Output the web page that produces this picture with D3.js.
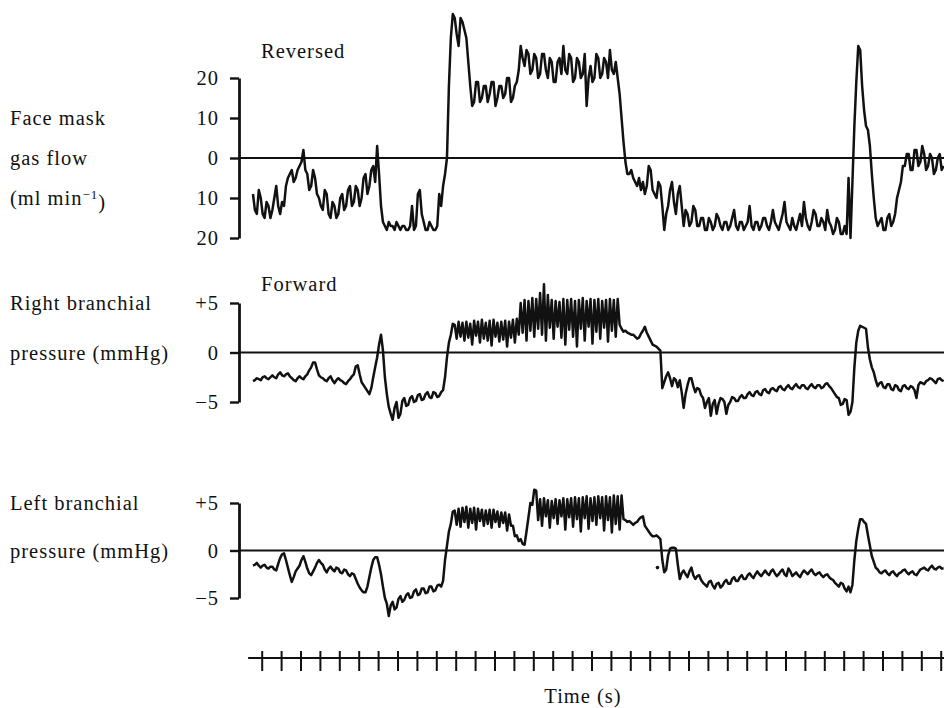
<!DOCTYPE html>
<html>
<head>
<meta charset="utf-8">
<script src="https://cdn.jsdelivr.net/npm/d3@7"></script>
<style>
  body { margin: 0; background: #fff; }
  text { font-family: "Liberation Serif", "Times New Roman", serif; font-size: 20.5px; letter-spacing: 1px; fill: #111; }
</style>
</head>
<body>
<svg id="chart"></svg>
<script>
// Sampling of the three traces (s)
const t0 = -0.45;
const dt = 0.1;

// Face mask gas flow (ml min-1), positive = reversed
const faceFlow = [
  -9, -13, -14, -8, -10, -14, -15, -11, -12, -15, -13, -10, -7, -12, -14, -11, -12, -7, -5, -4,
  -3, -6, -5, -3, -2, -1, 2, -3, -4, -8, -7, -3, -5, -9, -10, -12, -13, -8, -9, -14,
  -15, -11, -12, -15, -14, -10, -9, -13, -12, -8, -7, -12, -11, -7, -8, -12, -10, -5, -4, -9,
  -7, -3, -2, -6, 3, -4, -12, -16, -17, -18, -16, -17, -17, -18, -16, -17, -18, -17, -17, -18,
  -18, -17, -12, -18, -17, -9, -8, -14, -16, -18, -18, -16, -17, -18, -18, -17, -9, -12, -7, -4,
  0, 18, 30, 36, 35, 31, 28, 35, 34, 32, 30, 24, 18, 13, 14, 19, 19, 14, 15, 18,
  18, 14, 16, 19, 19, 13, 15, 18, 18, 15, 16, 20, 20, 14, 15, 18, 19, 22, 28, 25,
  23, 27, 26, 21, 22, 26, 25, 20, 21, 26, 26, 22, 20, 25, 24, 19, 19, 24, 25, 21,
  28, 22, 21, 26, 25, 19, 20, 25, 24, 20, 21, 26, 13, 20, 23, 19, 20, 26, 25, 20,
  21, 25, 24, 20, 27, 22, 21, 24, 20, 16, 10, 4, -1, -4, -4, -3, -5, -6, -7, -5,
  -8, -6, -9, -7, -2, -3, -8, -9, -10, -6, -7, -12, -18, -14, -12, -8, -6, -11, -14, -9,
  -7, -12, -17, -13, -14, -17, -16, -12, -13, -17, -17, -15, -15, -18, -18, -15, -16, -18, -17, -14,
  -15, -17, -18, -16, -16, -18, -17, -15, -13, -17, -18, -16, -16, -18, -17, -16, -12, -17, -18, -16,
  -16, -18, -17, -15, -15, -17, -18, -16, -13, -16, -17, -18, -16, -14, -11, -16, -17, -18, -15, -17,
  -18, -16, -14, -17, -11, -15, -17, -18, -16, -13, -14, -17, -17, -15, -16, -18, -13, -16, -17, -19,
  -18, -15, -16, -19, -19, -17, -19, -5, -20, -6, 8, 19, 28, 27, 18, 12, 8, 7, 3, -4,
  -10, -15, -17, -16, -15, -18, -18, -15, -14, -17, -16, -14, -10, -8, -6, -2, -2, 1, 1, -3,
  -3, 2, 2, -2, -1, 3, 1, -3, -2, 1, 0, -4, -3, 0, 1, -3, -2
];

// Right branchial pressure (mmHg)
const rightPressure = [
  -2.9, -2.8, -2.6, -2.7, -2.8, -2.5, -2.4, -2.6, -2.7, -2.5, -2.3, -2.5, -2.6, -2.2, -2.0, -2.3, -2.4, -2.2, -2.1, -2.4,
  -2.6, -2.8, -2.9, -2.6, -2.4, -2.6, -2.7, -2.4, -2.2, -1.8, -1.5, -1.0, -1.0, -1.7, -2.3, -2.5, -2.6, -2.8, -2.9, -2.6,
  -2.4, -2.8, -3.1, -2.8, -2.6, -2.8, -2.9, -3.1, -3.2, -2.9, -2.7, -2.4, -2.2, -1.4, -1.3, -2.2, -3.0, -3.3, -3.6, -3.9,
  -4.2, -3.6, -2.5, -1.5, -0.5, 0.8, 1.8, 0.2, -2.5, -4.2, -5.5, -6.2, -6.8, -5.6, -5.0, -6.6, -6.2, -4.9, -4.6, -5.4,
  -5.3, -4.6, -4.4, -5.0, -4.9, -4.3, -4.2, -4.8, -4.7, -4.2, -4.0, -4.5, -4.6, -4.0, -4.1, -4.5, -4.4, -4.0, -3.8, -2.5,
  -0.5, 1.0, 1.8, 2.9, 2.8, 1.4, 3.1, 1.6, 3.0, 1.2, 3.1, 1.5, 2.9, 0.8, 3.2, 1.7, 3.1, 1.0, 3.3, 1.4,
  3.0, 1.2, 3.2, 0.7, 3.3, 1.6, 3.0, 1.1, 3.1, 1.3, 3.2, 0.6, 3.1, 1.5, 3.3, 1.0, 3.4, 1.8, 5.0, 2.0,
  5.3, 1.2, 5.2, 2.2, 5.5, 1.6, 5.4, 2.4, 6.0, 1.8, 6.9, 1.2, 5.8, 2.5, 5.3, 1.4, 5.2, 2.6, 5.1, 1.5,
  5.4, 0.8, 5.3, 2.3, 5.4, 1.6, 5.2, 0.6, 5.3, 2.4, 5.5, 1.2, 5.2, 2.6, 5.4, 0.9, 5.3, 2.1, 5.4, 1.4,
  5.2, 2.5, 5.3, 1.1, 5.4, 2.2, 5.3, 1.6, 5.4, 2.8, 2.4, 2.1, 2.2, 2.0, 1.9, 1.8, 1.8, 1.6, 1.4, 1.5,
  1.9, 2.2, 2.6, 2.0, 1.6, 1.2, 0.8, 0.7, 0.6, 0.4, 0.2, -3.6, -3.0, -2.4, -2.0, -2.6, -3.4, -2.6, -2.8, -3.5,
  -2.8, -4.0, -5.6, -4.2, -3.3, -2.6, -2.6, -3.4, -4.0, -3.6, -3.7, -4.3, -4.6, -5.6, -5.0, -4.6, -6.4, -5.2, -4.8, -6.2,
  -5.2, -4.6, -4.7, -5.0, -6.2, -5.3, -5.0, -4.5, -4.6, -4.9, -4.9, -4.5, -4.3, -4.6, -4.6, -4.2, -4.0, -4.3, -4.4, -4.0,
  -3.9, -4.2, -4.3, -3.8, -3.7, -4.0, -4.1, -3.7, -3.6, -3.8, -3.9, -3.5, -3.4, -3.7, -3.8, -3.5, -3.3, -3.6, -3.7, -3.4,
  -3.2, -3.5, -3.6, -3.3, -3.3, -3.6, -3.7, -3.4, -3.2, -3.5, -3.6, -3.3, -3.3, -3.6, -3.5, -3.2, -3.1, -3.4, -3.6, -3.9,
  -4.2, -4.5, -4.6, -5.3, -5.2, -4.7, -4.8, -6.3, -6.0, -5.0, -1.5, 1.0, 2.2, 2.7, 2.6, 2.5, 2.4, 0.5, -0.7, -1.5,
  -2.0, -2.8, -3.4, -3.1, -3.0, -3.5, -3.6, -3.2, -3.2, -3.7, -3.8, -3.3, -3.4, -3.8, -3.9, -3.4, -3.3, -3.6, -3.7, -3.4,
  -3.5, -3.8, -4.6, -3.3, -3.0, -3.1, -3.2, -2.9, -2.8, -2.6, -2.7, -2.9, -3.1, -2.7, -2.6, -2.8, -2.9
];

// Left branchial pressure (mmHg)
const leftPressure = [
  -1.6, -1.5, -1.3, -1.6, -1.8, -1.6, -1.5, -1.8, -1.9, -1.7, -1.7, -2.0, -2.1, -1.4, -0.8, -0.4, -0.3, -1.0, -1.8, -2.6,
  -3.3, -2.8, -2.2, -1.9, -1.6, -1.0, -0.6, -1.2, -1.9, -2.4, -2.6, -2.2, -1.8, -1.3, -1.0, -1.3, -1.5, -2.0, -2.3, -1.9,
  -1.7, -2.0, -2.2, -1.8, -1.9, -2.3, -2.4, -2.0, -2.1, -2.5, -2.7, -2.4, -2.5, -3.0, -3.5, -3.9, -4.2, -4.4, -4.4, -3.8,
  -2.8, -1.8, -1.0, -0.7, -0.7, -1.5, -2.5, -3.8, -5.0, -5.6, -6.9, -5.8, -5.4, -6.2, -6.0, -5.1, -4.8, -5.4, -5.2, -4.7,
  -4.5, -5.0, -4.9, -4.3, -4.1, -4.7, -4.6, -4.0, -4.0, -4.5, -4.4, -3.8, -3.8, -4.3, -4.2, -3.7, -3.6, -3.8, -3.2, -1.0,
  0.5, 2.0, 2.8, 4.1, 4.2, 2.7, 4.4, 2.5, 4.5, 3.0, 4.6, 2.4, 4.4, 2.9, 4.5, 2.2, 4.4, 3.1, 4.3, 2.6,
  4.2, 2.8, 4.3, 2.4, 4.3, 3.0, 4.1, 2.5, 4.0, 2.9, 4.0, 2.1, 3.8, 2.6, 2.6, 1.5, 1.6, 1.0, 1.2, 0.7,
  0.6, 2.0, 3.5, 5.0, 4.8, 6.4, 6.3, 3.2, 5.4, 2.6, 5.5, 3.6, 5.3, 2.4, 5.2, 3.4, 5.4, 2.8, 5.3, 3.6,
  5.5, 2.2, 5.4, 3.5, 5.5, 2.5, 5.6, 3.3, 5.5, 2.0, 5.6, 3.4, 5.7, 2.3, 5.5, 3.1, 5.6, 2.7, 5.7, 3.4,
  5.6, 2.1, 5.7, 3.2, 5.6, 1.9, 5.8, 2.8, 5.7, 2.2, 5.8, 3.3, 3.2, 3.0, 3.1, 2.9, 2.7, 2.9, 3.0, 3.3,
  3.5, 3.6, 2.6, 2.3, 2.0, 1.7, 1.5, 1.5, 1.6, 1.4, 1.2, -1.0, -2.3, -2.0, -0.5, 0.2, 0.3, 0.3, 0.2, -1.5,
  -3.0, -2.4, -2.1, -2.5, -2.8, -2.2, -1.8, -2.6, -3.0, -2.7, -2.6, -3.1, -3.4, -3.6, -3.8, -3.3, -3.2, -3.7, -4.0, -3.5,
  -3.4, -3.9, -3.7, -3.3, -3.1, -3.5, -3.5, -3.0, -2.8, -3.2, -3.2, -2.8, -2.6, -3.0, -3.0, -2.6, -2.4, -2.7, -2.9, -2.5,
  -2.2, -2.5, -2.7, -2.4, -2.1, -2.4, -2.6, -2.2, -2.0, -2.4, -2.7, -2.5, -2.2, -2.0, -2.5, -2.7, -1.9, -2.2, -2.7, -2.5,
  -2.3, -2.6, -2.8, -2.4, -2.1, -2.3, -2.5, -2.2, -2.0, -2.4, -2.6, -2.4, -2.3, -2.6, -2.8, -2.6, -2.5, -2.8, -3.0, -3.1,
  -3.4, -3.6, -3.8, -3.4, -3.5, -4.0, -4.3, -3.8, -4.4, -3.6, -1.0, 1.0, 2.3, 3.3, 3.3, 3.0, 2.8, 1.6, 0.5, -0.6,
  -1.2, -1.8, -2.0, -2.3, -2.4, -2.2, -2.1, -2.4, -2.6, -2.3, -2.2, -2.5, -2.7, -2.4, -2.3, -2.1, -2.0, -2.3, -2.5, -2.3,
  -2.2, -2.5, -2.6, -2.3, -2.0, -1.9, -1.8, -2.0, -2.1, -1.8, -1.6, -1.9, -2.0, -1.8, -1.7, -1.9, -1.9
];
const leftDots = [{ t: 20.4, v: -1.8 }];

// Axis ticks
const flowTicks = [20, 10, 0, -10, -20];
const pressureTicks = [5, 0, -5];
const timeTicks = d3.range(0, 36);

const width = 944;
const height = 708;
const axisLeftX = 239;

const svg = d3.select('#chart')
  .attr('width', width)
  .attr('height', height);

const x = d3.scaleLinear().domain([0, 35]).range([261.7, 940.7]);

const signed = d => (d > 0 ? '+' + d : d < 0 ? '\u2212' + Math.abs(d) : '0');

const panels = [
  {
    values: faceFlow, domain: [-20, 20], range: [238, 78], ticks: flowTicks,
    fmt: d => Math.abs(d), title: 'Reversed', titleDy: -20,
    labels: [[10, 'Face mask'], [0, 'gas flow'], [-10, null]]
  },
  {
    values: rightPressure, domain: [-5, 5], range: [402, 303], ticks: pressureTicks,
    fmt: signed, title: 'Forward', titleDy: -12,
    labels: [[5, 'Right branchial'], [0, 'pressure (mmHg)']]
  },
  {
    values: leftPressure, domain: [-5, 5], range: [598, 503], ticks: pressureTicks,
    fmt: signed, dots: leftDots,
    labels: [[5, 'Left branchial'], [0, 'pressure (mmHg)']]
  }
];

panels.forEach(p => {
  const y = d3.scaleLinear().domain(p.domain).range(p.range);
  const g = svg.append('g');

  // zero line
  g.append('line')
    .attr('x1', axisLeftX).attr('x2', width)
    .attr('y1', y(0)).attr('y2', y(0))
    .attr('stroke', '#111').attr('stroke-width', 2);

  // y axis bracket
  const ax = g.append('g')
    .attr('transform', `translate(${axisLeftX},0)`)
    .call(d3.axisLeft(y).tickValues(p.ticks).tickSize(9).tickSizeOuter(0).tickPadding(11).tickFormat(p.fmt));
  ax.select('.domain').attr('stroke', '#111').attr('stroke-width', 2.8);
  ax.selectAll('.tick line').attr('stroke', '#111').attr('stroke-width', 2.4);
  ax.selectAll('.tick text')
    .style('font-family', '"Liberation Serif", serif')
    .style('font-size', '20.5px')
    .attr('fill', '#111');

  // trace
  const line = d3.line()
    .x((d, i) => x(t0 + i * dt))
    .y(d => y(d));
  g.append('path')
    .datum(p.values)
    .attr('d', line)
    .attr('fill', 'none')
    .attr('stroke', '#111')
    .attr('stroke-width', 2.5)
    .attr('stroke-linejoin', 'round');

  if (p.dots) {
    g.selectAll('circle')
      .data(p.dots)
      .enter()
      .append('circle')
      .attr('cx', d => x(d.t))
      .attr('cy', d => y(d.v))
      .attr('r', 1.8)
      .attr('fill', '#111');
  }

  if (p.title) {
    g.append('text')
      .attr('x', 261)
      .attr('y', y(p.domain[1]) + p.titleDy)
      .text(p.title);
  }

  // left-hand labels
  p.labels.forEach(([v, txt]) => {
    const t = g.append('text')
      .attr('x', 10)
      .attr('y', y(v))
      .attr('dy', '0.35em');
    if (txt) {
      t.text(txt);
    } else {
      t.append('tspan').text('(ml min');
      t.append('tspan').attr('dy', '-0.45em').style('font-size', '13px').text('\u22121');
      t.append('tspan').attr('dy', '0.45em').text(')');
    }
  });
});

// time axis
const timeY = 658;
const tg = svg.append('g').attr('transform', `translate(0,${timeY})`);
tg.append('line')
  .attr('x1', x(-0.7)).attr('x2', x(35.2))
  .attr('stroke', '#111').attr('stroke-width', 2.2);
tg.call(d3.axisBottom(x).tickValues(timeTicks).tickSize(13).tickFormat(''));
tg.select('.domain').remove();
tg.selectAll('.tick line')
  .attr('y1', -7)
  .attr('stroke', '#111')
  .attr('stroke-width', 2);

svg.append('text')
  .attr('x', 583)
  .attr('y', 703)
  .attr('text-anchor', 'middle')
  .text('Time (s)');
</script>
</body>
</html>
